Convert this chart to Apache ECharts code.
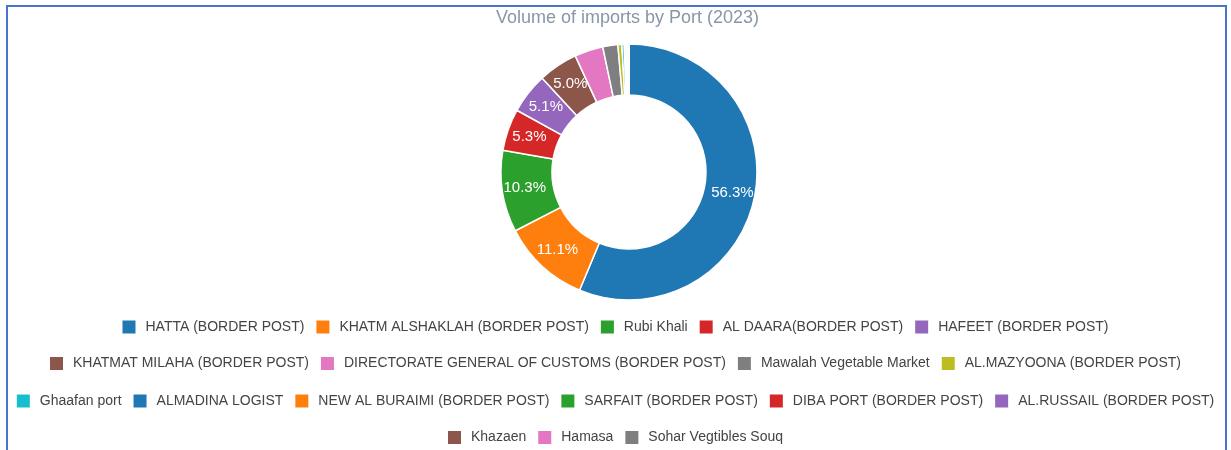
<!DOCTYPE html>
<html>
<head>
<meta charset="utf-8">
<script src="https://cdn.jsdelivr.net/npm/echarts@6/dist/echarts.min.js"></script>
<style>
  html, body { margin: 0; padding: 0; background: #fff; }
  #canvas { width: 1231px; height: 450px; }
</style>
</head>
<body>
<div id="canvas"></div>
<script>
var ports = [
    'HATTA (BORDER POST)', 'KHATM ALSHAKLAH (BORDER POST)', 'Rubi Khali', 'AL DAARA(BORDER POST)',
    'HAFEET (BORDER POST)', 'KHATMAT MILAHA (BORDER POST)', 'DIRECTORATE GENERAL OF CUSTOMS (BORDER POST)',
    'Mawalah Vegetable Market', 'AL.MAZYOONA (BORDER POST)', 'Ghaafan port', 'ALMADINA LOGIST',
    'NEW AL BURAIMI (BORDER POST)', 'SARFAIT (BORDER POST)', 'DIBA PORT (BORDER POST)',
    'AL.RUSSAIL (BORDER POST)', 'Khazaen', 'Hamasa', 'Sohar Vegtibles Souq'
];
// share of volume, percent
var volume = [56.3, 11.1, 10.3, 5.3, 5.1, 5.0, 3.6, 1.9, 0.5, 0.3, 0.2, 0.15, 0.1, 0.06, 0.04, 0.02, 0.01, 0.01];
var colors = ['#1f77b4', '#ff7f0e', '#2ca02c', '#d62728', '#9467bd', '#8c564b', '#e377c2', '#7f7f7f', '#bcbd22', '#17becf'];
// how the legend breaks into rows
var legend_rows = [5, 4, 6, 3];
var legend_centers = [326, 362.5, 400, 436.5];

var font = 'Liberation Sans, Arial, sans-serif';

var load_chart = function() {
    var myChart = echarts.init(document.getElementById('canvas'));
    var total = 0;
    for (var i in volume) total += volume[i];

    var data = [];
    for (var i in ports) data.push({name: ports[i], value: volume[i]});

    var legends = [];
    var k = 0;
    for (var r in legend_rows) {
        legends.push({
            data: ports.slice(k, k + legend_rows[r]),
            left: 'center',
            top: legend_centers[r] - 6,
            padding: 0,
            icon: 'rect',
            itemWidth: 13,
            itemHeight: 13,
            itemGap: 12,
            selectedMode: false,
            itemStyle: {borderWidth: 0},
            textStyle: {
                color: '#444',
                fontFamily: font,
                fontSize: 14,
                padding: [0, 0, 0, 5]
            }
        });
        k += legend_rows[r];
    }

    var option = {
        color: colors,
        animation: false,
        title: {
            text: 'Volume of imports by Port (2023)',
            left: 496,
            top: 9,
            padding: 0,
            textStyle: {
                color: '#8796a8',
                fontFamily: font,
                fontWeight: 'normal',
                fontSize: 18
            }
        },
        legend: legends,
        graphic: [{
            type: 'rect',
            shape: {x: 7, y: 6, width: 1219, height: 470},
            style: {fill: 'none', stroke: '#4a74cc', lineWidth: 2}
        }],
        series: [{
            type: 'pie',
            center: [629, 172],
            radius: [77, 128],
            startAngle: 90,
            clockwise: true,
            data: data,
            itemStyle: {borderColor: '#fff', borderWidth: 1.5},
            emphasis: {disabled: true},
            label: {
                show: true,
                position: 'inside',
                color: '#fff',
                fontFamily: font,
                fontSize: 15,
                formatter: function(p) {
                    var pct = p.value / total * 100;
                    return pct >= 4 ? pct.toFixed(1) + '%' : '';
                }
            },
            labelLine: {show: false}
        }]
    };
    myChart.setOption(option);
}

load_chart();
</script>
</body>
</html>
